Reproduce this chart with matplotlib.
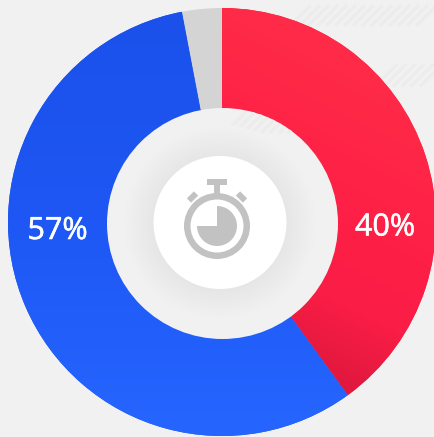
import numpy as np
import matplotlib
matplotlib.use("Agg")
import matplotlib.pyplot as plt
import matplotlib.patheffects as pe
from matplotlib.colors import LinearSegmentedColormap
from matplotlib.patches import Circle, Rectangle, Wedge
from matplotlib.transforms import Affine2D

plt.rcParams["font.family"] = ["Open Sans", "DejaVu Sans"]

labels = ["40%", "57%", ""]
values = [40, 57, 3]
label_pos = [(385, 224), (57.5, 227.5)]

bg = "#f1f1f1"
icon = "#c2c2c2"
H = 437
cx, cy = 222, H - 222

# gradients, position along the shading direction -> colour
red_stops = [(0.0, "#ff2a47"), (0.48, "#fe1f46"), (0.74, "#fa1d45"), (1.0, "#e0183e")]
blue_stops = [(0.0, "#1b50ea"), (0.5, "#1e57f4"), (1.0, "#2666ff")]

fig = plt.figure(figsize=(4.35, 4.37), dpi=100, facecolor=bg)
ax = fig.add_axes([0, 0, 1, 1])
ax.set_facecolor(bg)


def hatch(x0, x1, y_top, length, zorder, clip=None):
    # rows of faint slanted strokes in the background
    for x in np.arange(x0, x1, 9):
        line, = ax.plot([x, x + length * 0.7], [H - y_top - length * 0.7, H - y_top], color="#ececec",
                        lw=2.2, solid_capstyle="butt", zorder=zorder)
        if clip is not None:
            line.set_clip_path(clip)


hatch(290, 420, 5, 30, 1)
hatch(375, 425, 64, 32, 1)

wedges, _ = ax.pie(values, radius=214, center=(cx, cy), startangle=90, counterclock=False,
                   colors=["#ff2340", "#1e57f4", "#d4d4d4"], frame=True, wedgeprops=dict(lw=0, zorder=2))

xx, yy = np.meshgrid(np.arange(0, 435), np.arange(0, H))
red_t = np.clip((yy - 0.5 * xx + 100) / 315, 0, 1)
blue_t = np.clip(yy / 437, 0, 1)
for w, t, stops in [(wedges[0], red_t, red_stops), (wedges[1], blue_t, blue_stops)]:
    cmap = LinearSegmentedColormap.from_list("s", stops)
    im = ax.imshow(t, cmap=cmap, vmin=0, vmax=1, extent=(0, 435, 0, H), aspect="auto", zorder=3)
    im.set_clip_path(w)

# inner disc and the soft shadow round the white circle
disc = Circle((222.5, H - 223.5), 115.5, color="#f1f1f1", lw=0, zorder=4)
ax.add_patch(disc)
hatch(225, 300, 112, 30, 4.5, clip=disc)
for i, r in enumerate(np.linspace(98, 68, 12)):
    grey = 0.945 - 0.042 * (i / 11)
    ax.add_patch(Circle((220, H - 223), r, color=str(grey), lw=0, zorder=5 + i * 0.01))
ax.add_patch(Circle((220, H - 222.5), 66.5, color="white", lw=0, zorder=6))

# stopwatch icon
sx, sy = 217, H - 226
ax.add_patch(Circle((sx, sy), 33, color=icon, lw=0, zorder=7))
ax.add_patch(Circle((sx, sy), 26.5, color="white", lw=0, zorder=8))
ax.add_patch(Wedge((sx, sy), 20, 180, 90, color=icon, lw=0, zorder=9))
ax.add_patch(Rectangle((207, H - 185), 20, 6, color=icon, lw=0, zorder=7))
ax.add_patch(Rectangle((214, H - 194), 6, 10, color=icon, lw=0, zorder=7))
for ex, angle in [(192.5, 45), (241.5, -45)]:
    t = Affine2D().rotate_deg_around(ex, H - 197, angle) + ax.transData
    ax.add_patch(Rectangle((ex - 5, H - 200), 10, 6, color=icon, lw=0, zorder=7, transform=t))

for (x, y), s in zip(label_pos, labels):
    ax.text(x, H - y, s, color="white", fontsize=22, ha="center", va="center_baseline", zorder=10,
            path_effects=[pe.withStroke(linewidth=0.4, foreground="white")])

ax.set_xlim(0, 435)
ax.set_ylim(0, H)
ax.axis("off")

fig.savefig("out.png", dpi=100, facecolor=bg)
